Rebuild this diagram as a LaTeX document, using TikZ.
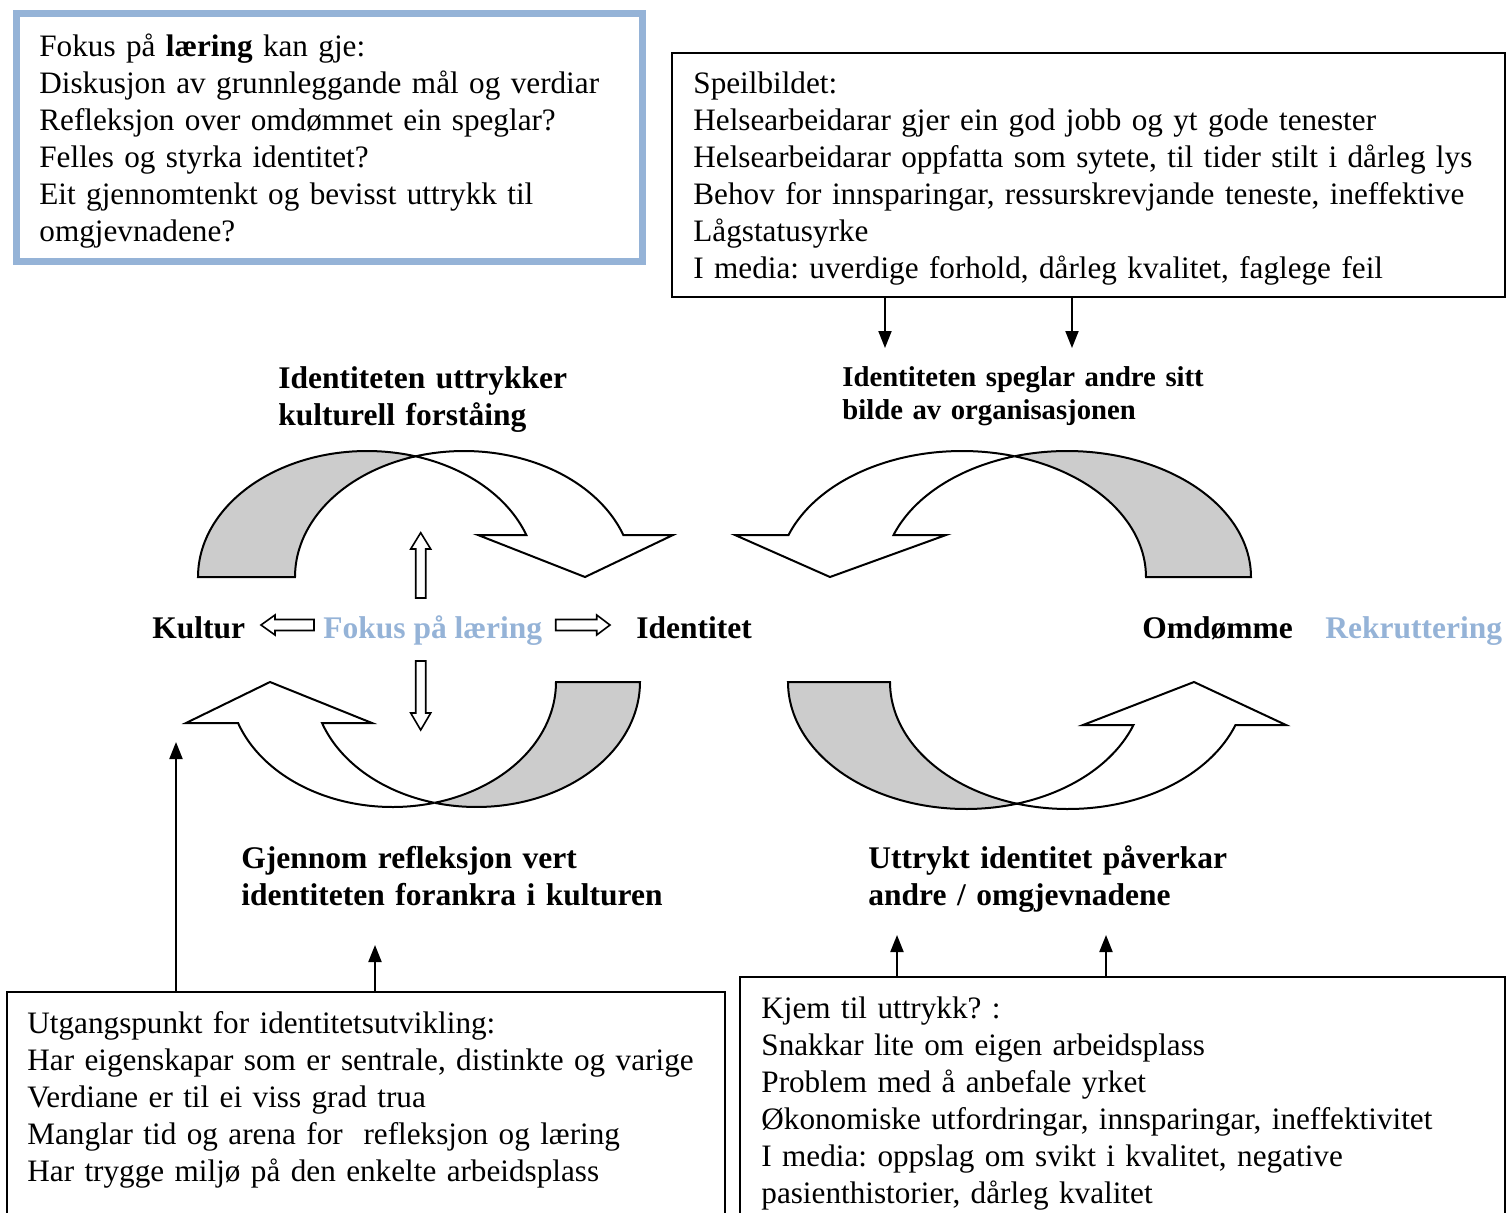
\documentclass[tikz,border=0pt]{standalone}
\usepackage{fontspec}
\setmainfont{Liberation Serif}
\usetikzlibrary{arrows.meta}
\definecolor{accentblue}{HTML}{95B3D7}
\definecolor{ribbongrey}{HTML}{CCCCCC}

\begin{document}
\frenchspacing
\begin{tikzpicture}[x=0.5pt,y=-0.5pt,
  boxline/.style={draw=black,line width=1pt,inner sep=0pt,outer sep=0pt,anchor=north west},
  txt/.style={anchor=base west,inner sep=0pt,align=left,font=\fontsize{15.6pt}{18.5pt}\selectfont},
  lbl/.style={anchor=base west,inner sep=0pt,align=left,font=\fontsize{15.75pt}{18.5pt}\selectfont\bfseries},
  ribbon/.style={draw=black,line width=1pt,fill=ribbongrey},
  bandfront/.style={draw=black,line width=1pt,fill=white},
  conn/.style={line width=1pt,-{Triangle[width=6.5pt,length=8.5pt]}},
  blockarrow/.style={draw=black,line width=0.8pt,fill=white},
]
\useasboundingbox (0,0) rectangle (1512,1212);

% ---------- text boxes ----------
\node[boxline,draw=accentblue,line width=3.5pt,minimum width=312.75pt,minimum height=124.25pt] (box1) at (16.5,13) {};
\node[boxline,minimum width=416.5pt,minimum height=122pt] (box2) at (672,53) {};
\node[boxline,minimum width=359pt,minimum height=124pt] (box3) at (7,992) {};
\node[boxline,minimum width=382.5pt,minimum height=131.5pt] (box4) at (740,977) {};

\node[txt,text width=300pt] (t1) at (39,56) {Fokus på \textbf{læring} kan gje:\\
Diskusjon av grunnleggande mål og verdiar\\
Refleksjon over omdømmet ein speglar?\\
Felles og styrka identitet?\\
Eit gjennomtenkt og bevisst uttrykk til\\
omgjevnadene?};

\node[txt,text width=405pt] (t2) at (693,93) {Speilbildet:\\
Helsearbeidarar gjer ein god jobb og yt gode tenester\\
Helsearbeidarar oppfatta som sytete, til tider stilt i dårleg lys\\
Behov for innsparingar, ressurskrevjande teneste, ineffektive\\
Lågstatusyrke\\
I media: uverdige forhold, dårleg kvalitet, faglege feil};

\node[txt,text width=350pt] (t3) at (27,1033) {Utgangspunkt for identitetsutvikling:\\
Har eigenskapar som er sentrale, distinkte og varige\\
Verdiane er til ei viss grad trua\\
Manglar tid og arena for\ \ refleksjon og læring\\
Har trygge miljø på den enkelte arbeidsplass};

\node[txt,text width=370pt] (t4) at (761,1018) {Kjem til uttrykk? :\\
Snakkar lite om eigen arbeidsplass\\
Problem med å anbefale yrket\\
Økonomiske utfordringar, innsparingar, ineffektivitet\\
I media: oppslag om svikt i kvalitet, negative\\
pasienthistorier, dårleg kvalitet};

% ---------- bold labels ----------
\node[lbl,text width=250pt] (l1) at (278,388) {Identiteten uttrykker\\kulturell forståing};
\node[lbl,text width=250pt,font=\fontsize{14.35pt}{16.5pt}\selectfont\bfseries] (l2) at (842,386) {Identiteten speglar andre sitt\\bilde av organisasjonen};
\node[lbl,text width=250pt] (l3) at (241,868) {Gjennom refleksjon vert\\identiteten forankra i kulturen};
\node[lbl,text width=250pt] (l4) at (868,868) {Uttrykt identitet påverkar\\andre / omgjevnadene};

\node[lbl] (kultur) at (152,638) {Kultur};
\node[lbl,text=accentblue] (fokus) at (323,638) {Fokus på læring};
\node[lbl] (ident) at (636,638) {Identitet};
\node[lbl] (omd) at (1142,638) {Omdømme};
\node[lbl,text=accentblue] (rekr) at (1325,638) {Rekruttering};

% ---------- connectors ----------
\coordinate (p1) at (885,348);
\coordinate (p2) at (1072,348);
\coordinate (q1) at (176,742);
\coordinate (q2) at (375,945);
\coordinate (r1) at (897,935);
\coordinate (r2) at (1106,935);
\draw[conn] (box2.south -| p1) -- (p1);
\draw[conn] (box2.south -| p2) -- (p2);
\draw[conn] (box3.north -| q1) -- (q1);
\draw[conn] (box3.north -| q2) -- (q2);
\draw[conn] (box4.north -| r1) -- (r1);
\draw[conn] (box4.north -| r2) -- (r2);

% ---------- curved ribbon arrows ----------
% upper left: Kultur -> Identitet
\filldraw[ribbon] plot[domain=180:73.3,samples=60] ({367+169*cos(\x)},{577-126*sin(\x)})
  -- plot[domain=106.7:180,samples=40] ({464+169*cos(\x)},{577-126*sin(\x)}) -- cycle;
\filldraw[bandfront] plot[domain=106.7:19.47,samples=60] ({464+169*cos(\x)},{577-126*sin(\x)})
  -- (673,535) -- (585,577) -- (478,535)
  -- plot[domain=19.47:73.3,samples=40] ({367+169*cos(\x)},{577-126*sin(\x)}) -- cycle;

% upper right: Omdømme -> Identitet
\filldraw[ribbon] plot[domain=0:106.6,samples=60] ({1067+184*cos(\x)},{577-126*sin(\x)})
  -- plot[domain=73.4:0,samples=40] ({962+184*cos(\x)},{577-126*sin(\x)}) -- cycle;
\filldraw[bandfront] plot[domain=73.4:160.53,samples=60] ({962+184*cos(\x)},{577-126*sin(\x)})
  -- (735,535) -- (830,577) -- (946,535)
  -- plot[domain=160.53:106.6,samples=40] ({1067+184*cos(\x)},{577-126*sin(\x)}) -- cycle;

% lower left: Identitet -> Kultur
\filldraw[ribbon] plot[domain=0:104.9,samples=60] ({476.5+163.5*cos(\x)},{682+125*sin(\x)})
  -- plot[domain=75.1:0,samples=40] ({392.5+163.5*cos(\x)},{682+125*sin(\x)}) -- cycle;
\filldraw[bandfront] plot[domain=75.1:160.85,samples=60] ({392.5+163.5*cos(\x)},{682+125*sin(\x)})
  -- (186,723) -- (270,682) -- (372,723)
  -- plot[domain=160.85:104.9,samples=40] ({476.5+163.5*cos(\x)},{682+125*sin(\x)}) -- cycle;

% lower right: Identitet -> Omdømme
\filldraw[ribbon] plot[domain=180:73.35,samples=60] ({966+178*cos(\x)},{682+127*sin(\x)})
  -- plot[domain=106.65:180,samples=40] ({1068+178*cos(\x)},{682+127*sin(\x)}) -- cycle;
\filldraw[bandfront] plot[domain=106.65:19.79,samples=60] ({1068+178*cos(\x)},{682+127*sin(\x)})
  -- (1286,725) -- (1194,682) -- (1083,725)
  -- plot[domain=19.79:73.35,samples=40] ({966+178*cos(\x)},{682+127*sin(\x)}) -- cycle;

% ---------- small block arrows around "Fokus på læring" ----------
\draw[blockarrow] (415.7,598) -- (415.7,549) -- (410.7,549) -- (420.7,532.7) -- (430.7,549) -- (425.7,549) -- (425.7,598) -- cycle;
\draw[blockarrow] (415.7,661) -- (425.7,661) -- (425.7,713) -- (430.7,713) -- (420.7,730) -- (410.7,713) -- (415.7,713) -- cycle;
\draw[blockarrow] (314,619.5) -- (275,619.5) -- (275,615) -- (261,625) -- (275,635) -- (275,630.5) -- (314,630.5) -- cycle;
\draw[blockarrow] (555.7,619.5) -- (596.7,619.5) -- (596.7,615) -- (610,625) -- (596.7,635) -- (596.7,630.5) -- (555.7,630.5) -- cycle;
\end{tikzpicture}
\end{document}
